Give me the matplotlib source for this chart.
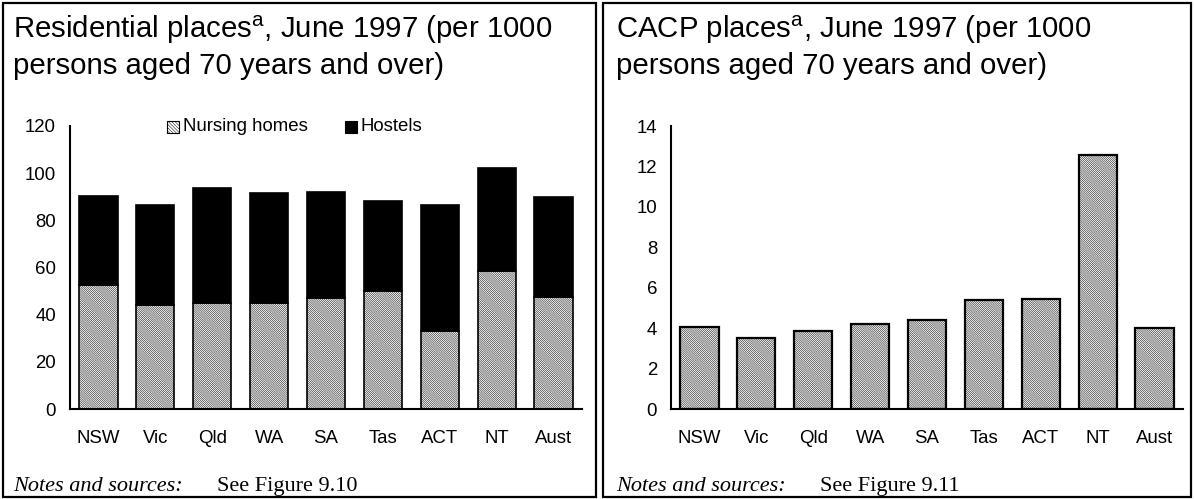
import matplotlib
matplotlib.use("Agg")
import matplotlib.pyplot as plt
from matplotlib.patches import Rectangle

categories = ["NSW", "Vic", "Qld", "WA", "SA", "Tas", "ACT", "NT", "Aust"]
nursing_homes = [52.5, 44.0, 45.0, 45.0, 47.0, 50.0, 33.0, 58.5, 47.5]
hostels = [38.0, 42.5, 48.5, 46.5, 45.0, 38.0, 53.5, 43.5, 42.5]
cacp = [4.05, 3.5, 3.85, 4.2, 4.4, 5.4, 5.45, 12.55, 4.0]

res_yticks = [0, 20, 40, 60, 80, 100, 120]
cacp_yticks = [0, 2, 4, 6, 8, 10, 12, 14]
legend_labels = ["Nursing homes", "Hostels"]

plt.rcParams['font.family'] = ['Liberation Sans', 'DejaVu Sans']
plt.rcParams['hatch.linewidth'] = 0.35
plt.rcParams['hatch.color'] = 'black'

HATCH = '\\' * 16
W, H = 1194, 499
fig = plt.figure(figsize=(W / 100, H / 100), dpi=100)


def fx(px):
    return px / W


def fy(py):
    return 1 - py / H


# panel borders
for x0, x1 in [(3, 596), (603, 1191)]:
    fig.add_artist(Rectangle((fx(x0), fy(497)), fx(x1) - fx(x0), fy(3) - fy(497),
                             transform=fig.transFigure, fill=False, edgecolor='black',
                             linewidth=1.6))

ax1 = fig.add_axes([fx(70), fy(409), fx(582) - fx(70), fy(126) - fy(409)])
ax2 = fig.add_axes([fx(671), fy(409), fx(1183) - fx(671), fy(126) - fy(409)])

x = list(range(len(categories)))
bw = 0.67
ax1.bar(x, nursing_homes, width=bw, facecolor='white', edgecolor='black', hatch=HATCH,
        linewidth=1.2)
ax1.bar(x, hostels, width=bw, bottom=nursing_homes, facecolor='black', edgecolor='black',
        linewidth=1.2)
ax2.bar(x, cacp, width=bw, facecolor='white', edgecolor='black', hatch=HATCH, linewidth=1.6)

for ax, yt in [(ax1, res_yticks), (ax2, cacp_yticks)]:
    ax.set_xlim(-0.5, len(categories) - 0.5)
    ax.set_ylim(yt[0], yt[-1])
    ax.set_yticks(yt)
    ax.set_yticklabels([str(v) for v in yt])
    ax.set_xticks(x)
    ax.set_xticklabels(categories)
    ax.tick_params(axis='both', length=0, labelsize=13.4)
    ax.tick_params(axis='x', pad=15)
    ax.tick_params(axis='y', pad=10)
    for s in ['top', 'right']:
        ax.spines[s].set_visible(False)
    for s in ['left', 'bottom']:
        ax.spines[s].set_linewidth(1.5)
    ax.patch.set_alpha(0)

# legend (left panel)
for (mx, tx), lab, style in zip([(167, 183), (345, 361)], legend_labels,
                                [dict(facecolor='white', hatch='\\' * 10),
                                 dict(facecolor='black')]):
    fig.add_artist(Rectangle((fx(mx), fy(133)), fx(12), 12 / H, transform=fig.transFigure,
                             edgecolor='black', linewidth=0.8, **style))
    fig.text(fx(tx), fy(127), lab, fontsize=13.4, va='center', ha='left')

# titles
for x0, head in [(13, "Residential places"), (616, "CACP places")]:
    fig.text(fx(x0), fy(38.5), head + r"$^{\mathregular{a}}$, June 1997 (per 1000",
             fontsize=21.2, va='baseline', ha='left')
    fig.text(fx(x0), fy(74), "persons aged 70 years and over)", fontsize=21.2,
             va='baseline', ha='left')

# notes
for x0, fig_no in [(13, "9.10"), (616, "9.11")]:
    fig.text(fx(x0), fy(491), "Notes and sources:", fontsize=16, style='italic',
             family='Liberation Serif', va='baseline', ha='left')
    fig.text(fx(x0 + 204), fy(491), "See Figure " + fig_no, fontsize=16,
             family='Liberation Serif', va='baseline', ha='left')

fig.savefig("out.png", dpi=100)
